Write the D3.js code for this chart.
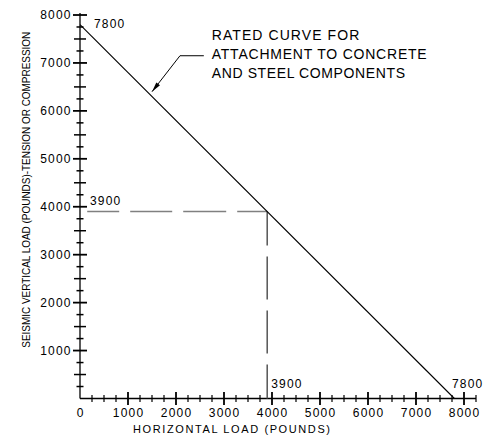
<!DOCTYPE html>
<html><head><meta charset="utf-8">
<script src="https://cdn.jsdelivr.net/npm/d3@7"></script>
<style>
body{margin:0;background:#fff}
svg{display:block}
text{font-family:"Liberation Sans",Arial,sans-serif;fill:#000}
</style>
</head><body>
<svg width="491" height="439"></svg>
<script>
// ---- data ----
const curveH = [0, 7800];          // horizontal load (pounds)
const curveV = [7800, 0];          // vertical load (pounds)
const designH = 3900;
const designV = 3900;
const xTickValues = [0,1000,2000,3000,4000,5000,6000,7000,8000];
const xTickLabels = ["0","1000","2000","3000","4000","5000","6000","7000","8000"];
const yTickValues = [1000,2000,3000,4000,5000,6000,7000,8000];
const yTickLabels = ["1000","2000","3000","4000","5000","6000","7000","8000"];
const minorStep = 250;
const xAxisMax = 8250;
const yAxisMax = 8000;
const annotationLines = ["RATED CURVE FOR","ATTACHMENT TO CONCRETE","AND STEEL COMPONENTS"];
const xTitle = "HORIZONTAL LOAD (POUNDS)";
const yTitle = "SEISMIC VERTICAL LOAD (POUNDS)-TENSION OR COMPRESSION";
const leaderTip = {h:1500, v:6400};
const leaderKnee = {h:2083, v:7150};
const leaderEndH = 2580;

// ---- scales ----
const svg = d3.select("svg");
const x = d3.scaleLinear().domain([0,8000]).range([80,464]);
const y = d3.scaleLinear().domain([0,8000]).range([398.5,15]);

// ---- axes lines ----
svg.append("line").attr("x1",x(0)).attr("x2",x(xAxisMax)).attr("y1",y(0)).attr("y2",y(0))
  .attr("stroke","#000").attr("stroke-width",1.3);
svg.append("line").attr("x1",x(0)).attr("x2",x(0)).attr("y1",y(0)).attr("y2",y(yAxisMax)-2)
  .attr("stroke","#000").attr("stroke-width",1.3);

// x ticks
const xt = d3.range(minorStep, xAxisMax+1, minorStep);
svg.append("g").selectAll("line").data(xt).join("line")
  .attr("x1",d=>x(d)).attr("x2",d=>x(d))
  .attr("y1",d=>y(0)-(d%1000===0?6.5:3.5)).attr("y2",d=>y(0)+(d%1000===0?6.5:3.5))
  .attr("stroke","#000").attr("stroke-width",d=>d%1000===0?1.8:1.2);
// y ticks
const yt = d3.range(minorStep, yAxisMax+1, minorStep);
svg.append("g").selectAll("line").data(yt).join("line")
  .attr("y1",d=>y(d)).attr("y2",d=>y(d))
  .attr("x1",d=>x(0)-(d%1000===0?7:(d%500===0?6:3.5))).attr("x2",d=>x(0)+(d%1000===0?7:(d%500===0?6:3.5)))
  .attr("stroke","#000").attr("stroke-width",d=>d%1000===0?1.8:1.5);

// tick labels
svg.append("g").selectAll("text").data(xTickValues).join("text")
  .attr("x",d=>x(d)+0.6).attr("y",y(0)+18.5).attr("text-anchor","middle")
  .attr("font-size",12).attr("letter-spacing",1.2)
  .text((d,i)=>xTickLabels[i]);
svg.append("g").selectAll("text").data(yTickValues).join("text")
  .attr("x",x(0)-8.3).attr("y",d=>y(d)+4.3).attr("text-anchor","end")
  .attr("font-size",12).attr("letter-spacing",1.2)
  .text((d,i)=>yTickLabels[i]);

// axis titles
svg.append("text").attr("x",133).attr("y",433).attr("font-size",11)
  .attr("textLength",197).attr("lengthAdjust","spacing").text(xTitle);
svg.append("text").attr("transform","translate(30,189.7) rotate(-90)")
  .attr("text-anchor","middle").attr("font-size",10)
  .attr("textLength",316).attr("lengthAdjust","spacing").text(yTitle);

// dashed design lines
svg.append("line").attr("x1",x(designH)).attr("y1",y(designV)).attr("x2",x(0)).attr("y2",y(designV))
  .attr("stroke","#808080").attr("stroke-width",1.6).attr("stroke-dasharray","30,11,43,11,42,11,32,20");
svg.append("line").attr("x1",x(designH)).attr("y1",y(designV)).attr("x2",x(designH)).attr("y2",y(0))
  .attr("stroke","#555").attr("stroke-width",1.5).attr("stroke-dasharray","34,11,43,11,43,11,40");

// rated curve
svg.append("path").datum(curveH.map((h,i)=>[h,curveV[i]]))
  .attr("d",d3.line().x(d=>x(d[0])).y(d=>y(d[1])))
  .attr("fill","none").attr("stroke","#000").attr("stroke-width",1.1);

// point labels
const lab = (tx,ty,t)=>svg.append("text").attr("x",tx).attr("y",ty).attr("font-size",12).attr("letter-spacing",1.2).text(t);
lab(x(0)+14, y(curveV[0])+3, String(curveV[0]));
lab(x(0)+10, y(designV)-7, String(designV));
lab(x(designH)+4, y(0)-10.5, String(designH));
lab(x(curveH[1])-2.5, y(0)-10.5, String(curveH[1]));

// annotation
const ax0 = 211.7;
const lens = [147.6, 215, 193.3];
annotationLines.forEach((t,i)=>{
  svg.append("text").attr("x",ax0).attr("y",40+19*i).attr("font-size",14)
    .attr("textLength",lens[i]).attr("lengthAdjust","spacing").text(t);
});
// leader
const tip=[x(leaderTip.h),y(leaderTip.v)], knee=[x(leaderKnee.h),y(leaderKnee.v)], end=[x(leaderEndH),y(leaderKnee.v)];
svg.append("path").attr("d",`M${end[0]},${end[1]}L${knee[0]},${knee[1]}L${tip[0]},${tip[1]}`)
  .attr("fill","none").attr("stroke","#000").attr("stroke-width",1);
const dx=knee[0]-tip[0], dy=knee[1]-tip[1], L=Math.hypot(dx,dy), ux=dx/L, uy=dy/L;
const hl=10, hw=2.3;
const bx=tip[0]+ux*hl, by=tip[1]+uy*hl;
svg.append("path").attr("d",`M${tip[0]},${tip[1]}L${bx-uy*hw},${by+ux*hw}L${bx+uy*hw},${by-ux*hw}Z`)
  .attr("fill","#000");
</script>
</body></html>
